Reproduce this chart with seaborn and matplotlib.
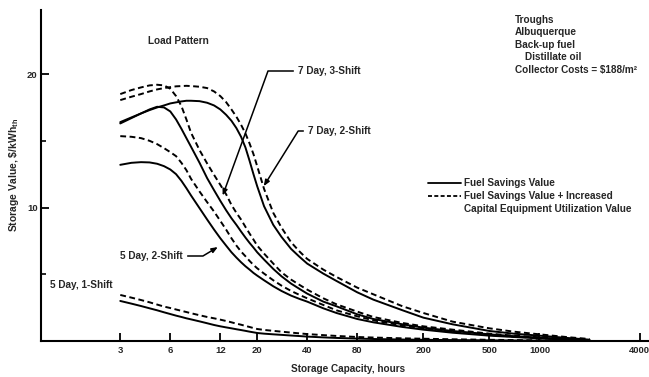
import numpy as np
import pandas as pd
import matplotlib
matplotlib.use("Agg")
import matplotlib.pyplot as plt
from matplotlib.lines import Line2D
import seaborn as sns

# storage capacity, hours (shared grid for every curve)
hours = [3, 3.5, 4, 4.5, 5, 5.5, 6, 6.5, 7, 7.5,
         8, 9, 10, 11, 12, 13, 14, 15, 16, 17,
         18, 19, 20, 22, 25, 28, 32, 36, 40, 50,
         60, 80, 100, 150, 200, 300, 500, 700, 1000, 1500,
         2000]

# storage value, $/kWh_th -- fs = fuel savings, ev = fuel savings + capital equipment
fs_7d3s = [16.3, 16.7, 17.05, 17.35, 17.55, 17.5, 17.2, 16.6, 15.9, 15.2,
           14.55, 13.35, 12.2, 11.3, 10.5, 9.8, 9.2, 8.7, 8.2, 7.75,
           7.35, 7.0, 6.65, 6.1, 5.4, 4.85, 4.3, 3.9, 3.55, 2.95,
           2.6, 2.0, 1.65, 1.25, 1.0, 0.75, 0.5, 0.36, 0.25, 0.12,
           0.05]
ev_7d3s = [18.5, 18.8, 19.0, 19.15, 19.2, 19.15, 18.9, 18.35, 17.6, 16.6,
           15.6, 14.3, 13.3, 12.45, 11.7, 11.0, 10.2, 9.6, 9.1, 8.55,
           8.05, 7.6, 7.15, 6.55, 5.8, 5.15, 4.6, 4.2, 3.85, 3.2,
           2.75, 2.2, 1.8, 1.35, 1.1, 0.85, 0.55, 0.4, 0.28, 0.15,
           0.06]
fs_7d2s = [16.4, 16.75, 17.05, 17.3, 17.5, 17.65, 17.8, 17.88, 17.95, 18.0,
           18.0, 17.97, 17.85, 17.65, 17.35, 16.95, 16.5, 15.95, 15.3, 14.5,
           13.5, 12.5, 11.6, 10.1, 8.7, 7.8, 6.9, 6.3, 5.8, 5.05,
           4.5, 3.65, 3.1, 2.3, 1.75, 1.25, 0.75, 0.55, 0.4, 0.22,
           0.1]
ev_7d2s = [18.05, 18.3, 18.5, 18.7, 18.85, 18.95, 19.02, 19.08, 19.1, 19.12,
           19.1, 19.05, 18.95, 18.7, 18.35, 17.9, 17.35, 16.8, 16.2, 15.55,
           14.8, 14.0, 13.1, 11.4, 9.6, 8.5, 7.4, 6.7, 6.15, 5.35,
           4.8, 4.0, 3.5, 2.6, 2.1, 1.45, 0.95, 0.7, 0.5, 0.28,
           0.15]
fs_5d2s = [13.2, 13.35, 13.4, 13.38, 13.28, 13.1, 12.85, 12.5, 12.0, 11.45,
           10.9, 9.95, 9.1, 8.35, 7.7, 7.15, 6.65, 6.25, 5.9, 5.6,
           5.35, 5.1, 4.9, 4.55, 4.1, 3.75, 3.4, 3.15, 2.95, 2.45,
           2.1, 1.65, 1.4, 1.05, 0.85, 0.62, 0.4, 0.3, 0.2, 0.1,
           0.04]
ev_5d2s = [15.35, 15.3, 15.2, 15.0, 14.75, 14.45, 14.15, 13.85, 13.35, 12.8,
           12.15, 11.2, 10.4, 9.7, 9.0, 8.35, 7.7, 7.15, 6.7, 6.35,
           6.0, 5.7, 5.45, 5.05, 4.55, 4.15, 3.75, 3.45, 3.2, 2.7,
           2.3, 1.85, 1.55, 1.15, 0.95, 0.7, 0.45, 0.33, 0.22, 0.12,
           0.05]
fs_5d1s = [3.0, 2.8, 2.62, 2.45, 2.3, 2.15, 2.02, 1.9, 1.8, 1.7,
           1.62, 1.47, 1.33, 1.2, 1.1, 1.02, 0.95, 0.88, 0.82, 0.76,
           0.7, 0.65, 0.6, 0.55, 0.5, 0.46, 0.41, 0.37, 0.33, 0.27,
           0.23, 0.18, 0.15, 0.11, 0.09, 0.07, 0.05, 0.04, 0.03, 0.02,
           0.01]
ev_5d1s = [3.45, 3.25, 3.07, 2.9, 2.73, 2.58, 2.47, 2.36, 2.26, 2.17,
           2.08, 1.93, 1.8, 1.7, 1.6, 1.5, 1.4, 1.3, 1.22, 1.13,
           1.05, 0.97, 0.9, 0.83, 0.76, 0.7, 0.63, 0.57, 0.52, 0.44,
           0.38, 0.3, 0.26, 0.2, 0.17, 0.13, 0.09, 0.07, 0.05, 0.03,
           0.02]

x_ticks = [3, 6, 12, 20, 40, 80, 200, 500, 1000, 4000]

series = {
    ("7 Day, 3-Shift", "fuel"): fs_7d3s, ("7 Day, 3-Shift", "capital"): ev_7d3s,
    ("7 Day, 2-Shift", "fuel"): fs_7d2s, ("7 Day, 2-Shift", "capital"): ev_7d2s,
    ("5 Day, 2-Shift", "fuel"): fs_5d2s, ("5 Day, 2-Shift", "capital"): ev_5d2s,
    ("5 Day, 1-Shift", "fuel"): fs_5d1s, ("5 Day, 1-Shift", "capital"): ev_5d1s,
}
rows = []
for (pattern, kind), vals in series.items():
    assert len(vals) == len(hours)
    for h, v in zip(hours, vals):
        rows.append({"hours": h, "value": v, "line": pattern + kind, "kind": kind})
df = pd.DataFrame(rows)

sns.set_style("ticks")
plt.rcParams["font.family"] = ["Liberation Sans", "DejaVu Sans"]
plt.rcParams["font.weight"] = "bold"
FS = 7.2

W, H = 649, 377
def fx(px):
    return px / W
def fy(py):
    return 1 - py / H

fig = plt.figure(figsize=(6.49, 3.77), dpi=100)
ax = fig.add_axes([41 / W, 36 / H, 607 / W, 331 / H])

sns.lineplot(data=df, x="hours", y="value", units="line", estimator=None,
             style="kind", dashes={"fuel": "", "capital": (3, 1.8)},
             color="black", lw=1.4, legend=False, ax=ax)

ax.set_xscale("log")
ax.set_xlim(1, 4500)
ax.set_ylim(0, 24.8)
ax.set_xticks(x_ticks)
ax.set_xticklabels([str(t) for t in x_ticks], fontsize=6.8, fontweight="bold")
ax.xaxis.set_minor_locator(matplotlib.ticker.NullLocator())
ax.set_yticks([10, 20])
ax.set_yticklabels(["10", "20"], fontsize=6.8, fontweight="bold")
ax.set_yticks([5, 15], minor=True)
ax.tick_params(axis="both", which="major", direction="in", length=6, width=1.3, color="black", pad=2.5)
ax.tick_params(axis="y", which="minor", direction="in", length=3.5, width=1.2, color="black")
ax.tick_params(axis="x", which="major", pad=3.5)
ax.set_xlabel("")
ax.set_ylabel("")
sns.despine(ax=ax)
for s in ["left", "bottom"]:
    ax.spines[s].set_linewidth(1.5)
    ax.spines[s].set_color("black")

fig.text(fx(348), fy(369), "Storage Capacity, hours", ha="center", va="center", fontsize=FS)
fig.text(fx(14), fy(175), "Storage Value, \\$/kWh$_{\\mathregular{th}}$", rotation=90,
         ha="center", va="center", fontsize=7.5)

fig.text(fx(148), fy(41), "Load Pattern", va="center", fontsize=FS)
fig.text(fx(50), fy(285), "5 Day, 1-Shift", va="center", fontsize=FS)

info = [("Troughs", 515, 20), ("Albuquerque", 515, 32), ("Back-up fuel", 515, 45),
        ("Distillate oil", 525, 57), ("Collector Costs = \\$188/m²", 515, 70)]
for txt, px, py in info:
    fig.text(fx(px), fy(py), txt, va="center", fontsize=FS)

arrow = dict(arrowstyle="-|>,head_length=0.5,head_width=0.2", color="black", lw=1.1,
             shrinkA=1, shrinkB=0)
ax.annotate("7 Day, 3-Shift", xy=(12.4, 10.9), xycoords="data",
            xytext=(fx(298), fy(71)), textcoords="figure fraction", va="center", fontsize=FS,
            arrowprops=dict(arrow, relpos=(0, 0.5), connectionstyle="angle,angleA=0,angleB=70"))
ax.annotate("7 Day, 2-Shift", xy=(21.9, 11.6), xycoords="data",
            xytext=(fx(308), fy(131)), textcoords="figure fraction", va="center", fontsize=FS,
            arrowprops=dict(arrow, relpos=(0, 0.5), connectionstyle="angle,angleA=0,angleB=58"))
ax.annotate("5 Day, 2-Shift", xy=(11.6, 7.04), xycoords="data",
            xytext=(fx(183), fy(256)), textcoords="figure fraction", va="center", ha="right",
            fontsize=FS,
            arrowprops=dict(arrow, relpos=(1, 0.5), connectionstyle="angle,angleA=0,angleB=31"))

handles = [Line2D([], [], color="black", lw=1.3),
           Line2D([], [], color="black", lw=1.3, dashes=(2.2, 1.3)),
           Line2D([], [], color="none")]
labels = ["Fuel Savings Value", "Fuel Savings Value + Increased", "Capital Equipment Utilization Value"]
fig.legend(handles, labels, loc="upper left", bbox_to_anchor=(fx(428), fy(178)),
           frameon=False, fontsize=FS, handlelength=3.3, handletextpad=0.3,
           labelspacing=0.3, borderaxespad=0, borderpad=0)

fig.savefig("out.png", dpi=100)
